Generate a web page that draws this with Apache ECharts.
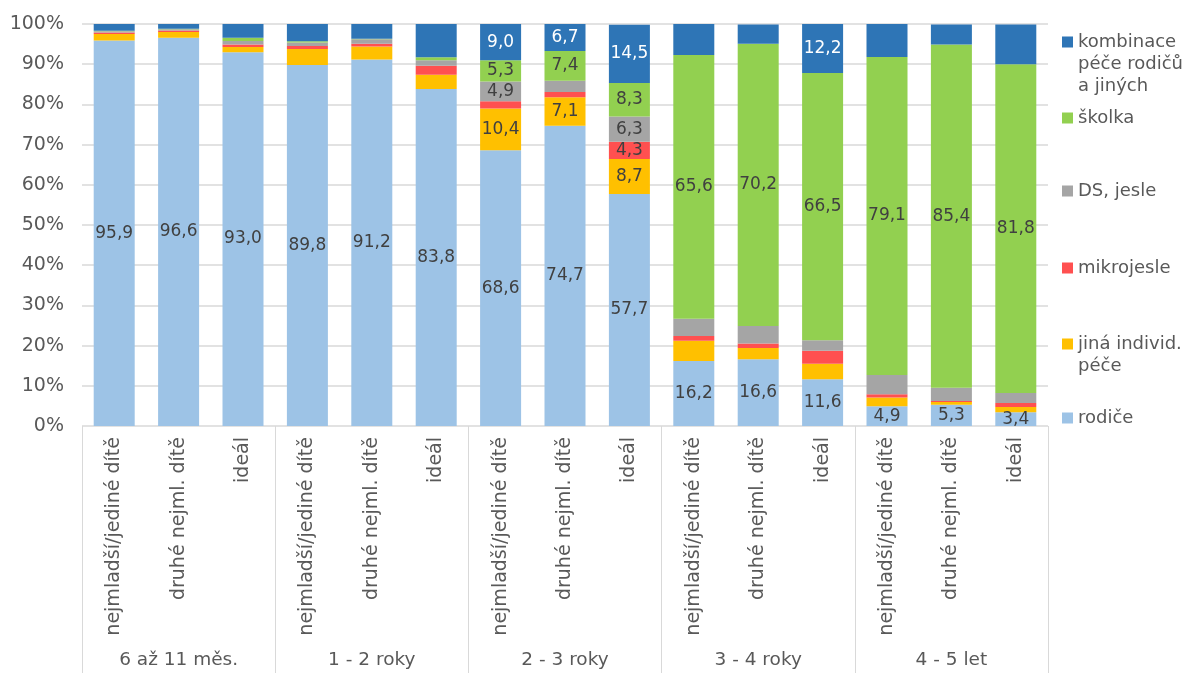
<!DOCTYPE html>
<html>
<head>
<meta charset="utf-8">
<script src="https://cdn.jsdelivr.net/npm/echarts@6/dist/echarts.min.js"></script>
<style>
  html, body { margin: 0; padding: 0; background: #fff; }
  #chart { width: 1185px; height: 673px; }
</style>
</head>
<body>
<div id="chart"></div>
<script>
// podkategorie a věkové skupiny
const subCats = [
  'nejmladší/jediné dítě', 'druhé nejml. dítě', 'ideál',
  'nejmladší/jediné dítě', 'druhé nejml. dítě', 'ideál',
  'nejmladší/jediné dítě', 'druhé nejml. dítě', 'ideál',
  'nejmladší/jediné dítě', 'druhé nejml. dítě', 'ideál',
  'nejmladší/jediné dítě', 'druhé nejml. dítě', 'ideál'
]
const groups = ['6 až 11 měs.', '1 - 2 roky', '2 - 3 roky', '3 - 4 roky', '4 - 5 let']
const yTicks = [0, 10, 20, 30, 40, 50, 60, 70, 80, 90, 100]

// hodnoty v % (zdola nahoru)
const rodice = [95.9, 96.6, 93.0, 89.8, 91.2, 83.8, 68.6, 74.7, 57.7, 16.2, 16.6, 11.6, 4.9, 5.3, 3.4]
const jina = [1.6, 1.4, 1.3, 4.0, 3.2, 3.6, 10.4, 7.1, 8.7, 5.0, 2.8, 3.9, 2.2, 0.7, 1.3]
const mikrojesle = [0.4, 0.4, 0.6, 0.7, 0.7, 2.2, 1.8, 1.3, 4.3, 1.2, 1.1, 3.2, 0.8, 0.2, 1.0]
const dsJesle = [0.3, 0.3, 0.9, 0.9, 1.1, 1.4, 4.9, 2.8, 6.3, 4.3, 4.4, 2.6, 4.8, 3.3, 2.5]
const skolka = [0.1, 0.1, 0.8, 0.3, 0.1, 0.7, 5.3, 7.4, 8.3, 65.6, 70.2, 66.5, 79.1, 85.4, 81.8]
const kombinace = [1.7, 1.2, 3.4, 4.3, 3.7, 8.3, 9.0, 6.7, 14.5, 7.7, 4.8, 12.2, 8.2, 5.0, 9.9]

// které popisky jsou v grafu zobrazeny (indexy sloupců)
const labelsRodice = [0, 1, 2, 3, 4, 5, 6, 7, 8, 9, 10, 11, 12, 13, 14]
const labelsJina = [6, 7, 8]
const labelsMikro = [8]
const labelsDs = [6, 8]
const labelsSkolka = [6, 7, 8, 9, 10, 11, 12, 13, 14]
const labelsKombinace = [6, 7, 8, 11]

const FONT = 'DejaVu Sans'
const fmt = (v) => v.toFixed(1).replace('.', ',')

const seriesDefs = [
  { name: 'rodiče', data: rodice, color: '#9DC3E6', labels: labelsRodice, text: '#404040' },
  { name: 'jiná individ. péče', data: jina, color: '#FFC000', labels: labelsJina, text: '#404040' },
  { name: 'mikrojesle', data: mikrojesle, color: '#FF5050', labels: labelsMikro, text: '#404040' },
  { name: 'DS, jesle', data: dsJesle, color: '#A5A5A5', labels: labelsDs, text: '#404040' },
  { name: 'školka', data: skolka, color: '#92D050', labels: labelsSkolka, text: '#404040' },
  { name: 'kombinace péče rodičů a jiných', data: kombinace, color: '#2E75B6', labels: labelsKombinace, text: '#ffffff' }
]

const legendText = {
  'kombinace péče rodičů a jiných': 'kombinace\npéče rodičů\na jiných',
  'jiná individ. péče': 'jiná individ.\npéče'
}

// legenda: střed první řádky
const legendRows = [
  { name: 'kombinace péče rodičů a jiných', y: 42, lines: 3 },
  { name: 'školka', y: 118, lines: 1 },
  { name: 'DS, jesle', y: 191, lines: 1 },
  { name: 'mikrojesle', y: 268, lines: 1 },
  { name: 'jiná individ. péče', y: 344, lines: 2 },
  { name: 'rodiče', y: 418, lines: 1 }
]
const LH = 22
const SQ = 11

// čtvereček nahoře, zbytek výšky prázdný -> ikona zarovnaná k první řádce
const legendIcon = (h) => `path://M0,0h${SQ}v${SQ}h-${SQ}z M0,${h}L0.001,${h}`

const chart = echarts.init(document.getElementById('chart'))

chart.setOption({
  animation: false,
  textStyle: { fontFamily: FONT },
  grid: { left: 82, right: 137, top: 24, bottom: 247 },
  legend: legendRows.map((r) => {
    const h = SQ + (r.lines - 1) * LH
    return {
      data: [r.name],
      left: 1062,
      top: r.y - LH / 2,
      orient: 'vertical',
      padding: 0,
      itemWidth: SQ,
      itemHeight: h,
      icon: r.lines > 1 ? legendIcon(h) : 'rect',
      formatter: (n) => legendText[n] || n,
      textStyle: {
        fontFamily: FONT,
        fontSize: 18,
        color: '#595959',
        lineHeight: LH
      }
    }
  }),
  xAxis: [
    {
      type: 'category',
      data: subCats,
      axisLine: { show: false },
      axisTick: { show: false },
      axisLabel: {
        interval: 0,
        rotate: 90,
        margin: 11,
        fontSize: 19,
        color: '#595959'
      }
    },
    {
      type: 'category',
      data: groups,
      position: 'bottom',
      axisLine: { show: false },
      axisTick: {
        show: true,
        interval: 0,
        length: 247,
        lineStyle: { color: '#d9d9d9', width: 1 }
      },
      axisLabel: {
        interval: 0,
        margin: 225,
        fontSize: 18.5,
        color: '#595959'
      }
    }
  ],
  yAxis: {
    type: 'value',
    min: yTicks[0],
    max: yTicks[yTicks.length - 1],
    interval: yTicks[1] - yTicks[0],
    axisLine: { show: false },
    axisTick: { show: false },
    axisLabel: {
      formatter: '{value}%',
      margin: 18,
      fontSize: 19,
      color: '#595959'
    },
    splitLine: { lineStyle: { color: '#d9d9d9', width: 1.5 } }
  },
  series: seriesDefs.map((s) => ({
    type: 'bar',
    name: s.name,
    stack: 'total',
    xAxisIndex: 0,
    barWidth: 41,
    itemStyle: { color: s.color },
    data: s.data.map((v, i) => ({
      value: v,
      label: { show: s.labels.includes(i) }
    })),
    label: {
      position: 'inside',
      fontSize: 17,
      color: s.text,
      formatter: (p) => fmt(p.value)
    }
  }))
})
</script>
</body>
</html>
